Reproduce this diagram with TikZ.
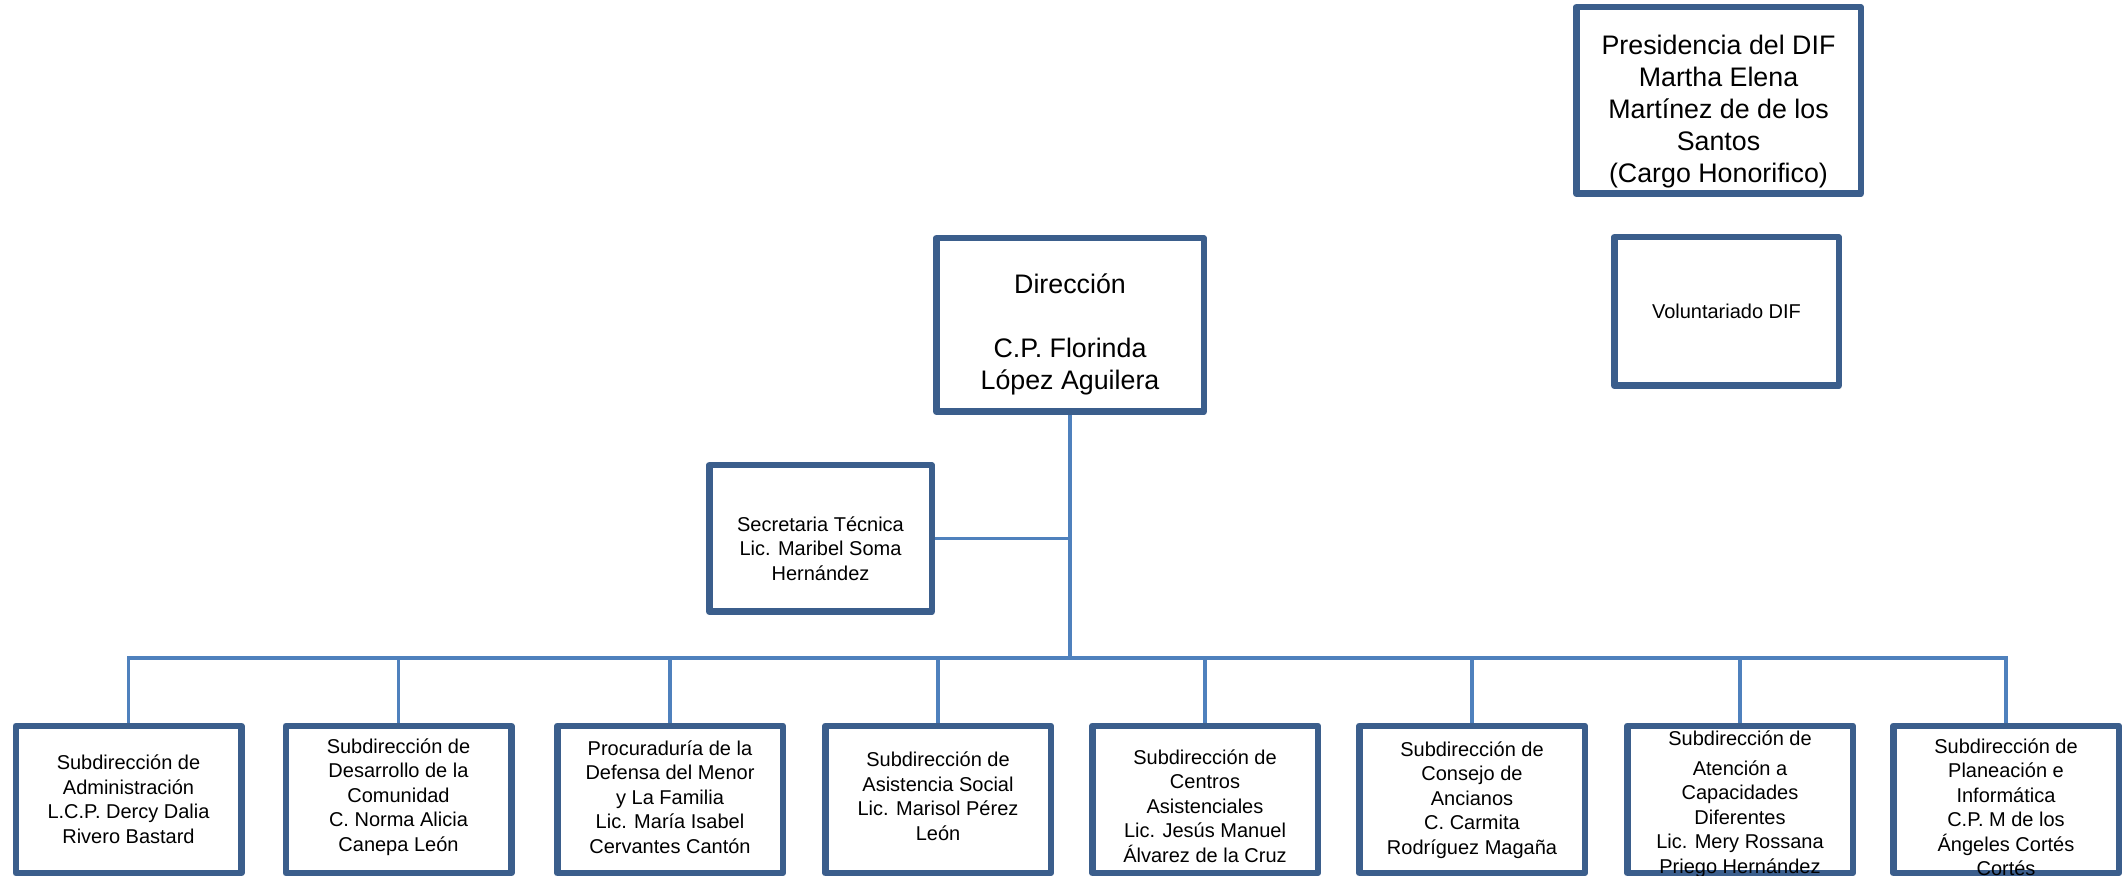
\documentclass[tikz,border=0pt]{standalone}
\usepackage{fontspec}
\setmainfont{Liberation Sans}
\definecolor{boxblue}{RGB}{59,94,140}
\definecolor{linkblue}{RGB}{79,129,189}
\begin{document}
\begin{tikzpicture}[x=0.5pt,y=-0.5pt,
  box/.style={draw=boxblue, line width=3.25pt, line join=round, fill=white, inner sep=0pt},
  sub/.style={box, minimum width=112.75pt, minimum height=73.5pt},
  link/.style={draw=linkblue, line width=1.6pt},
  mainlink/.style={draw=linkblue, line width=2pt},
  big/.style={align=center, inner sep=0pt, text=black, font=\fontsize{13.4}{16}\selectfont},
  small/.style={align=center, inner sep=0pt, text=black, font=\fontsize{10}{12.25}\selectfont},
]
\useasboundingbox (0,0) rectangle (2122,876);
\fill[white] (0,0) rectangle (2122,876);

% top boxes
\node[box, minimum width=142.25pt, minimum height=93.25pt] (pres) at (1718.5,100.5) {};
\node[big] (presT) at ([yshift=-5.5pt]pres.center) {Presidencia del DIF\\Martha Elena\\Martínez de de los\\Santos\\(Cargo Honorifico)};

\node[box, minimum width=112.25pt, minimum height=74.25pt] (vol) at (1726.5,311.5) {};
\node[small] (volT) at (vol.center) {Voluntariado DIF};

\node[box, minimum width=133.75pt, minimum height=86.75pt] (dir) at (1070,325) {};
\node[big] (dirT) at ([yshift=-4.5pt]dir.center) {Dirección\\[16pt]C.P. Florinda\\López Aguilera};

\node[box, minimum width=111.25pt, minimum height=73.25pt] (sec) at (820.5,538.5) {};
\node[small] (secT) at ([yshift=-5pt]sec.center) {Secretaria Técnica\\Lic. Maribel Soma\\Hernández};

% bottom boxes
\node[sub] (s1) at (128.5,799.5) {};
\node[sub] (s2) at (398.5,799.5) {};
\node[sub] (s3) at (670,799.5) {};
\node[sub] (s4) at (938,799.5) {};
\node[sub] (s5) at (1205,799.5) {};
\node[sub] (s6) at (1472,799.5) {};
\node[sub] (s7) at (1740,799.5) {};
\node[sub] (s8) at (2006,799.5) {};

% connectors
\coordinate (bus) at (1070,658);
\draw[mainlink] (dir.south) -- (bus);
\draw[link] (sec.east) -- (sec.east -| dir.south);
\foreach \i in {1,...,8} {
  \draw[link] (bus) -| (s\i.north);
}

% bottom texts
\node[small] (t1) at ([yshift=0.25pt]s1.center) {Subdirección de\\Administración\\L.C.P. Dercy Dalia\\Rivero Bastard};
\node[small] (t2) at ([yshift=1.25pt]s2.center) {Subdirección de\\Desarrollo de la\\Comunidad\\C. Norma Alicia\\Canepa León};
\node[small] (t3) at ([yshift=1.25pt]s3.center) {Procuraduría de la\\Defensa del Menor\\y La Familia\\Lic. María Isabel\\Cervantes Cantón};
\node[small] (t4) at ([yshift=1.75pt]s4.center) {Subdirección de\\Asistencia Social\\Lic. Marisol Pérez\\León};
\node[small] (t5) at ([yshift=-3.25pt]s5.center) {Subdirección de\\Centros\\Asistenciales\\Lic. Jesús Manuel\\Álvarez de la Cruz};
\node[small] (t6) at ([yshift=-0.25pt]s6.center) {Subdirección de\\Consejo de\\Ancianos\\C. Carmita\\Rodríguez Magaña};
\node[small] (t7) at ([yshift=-2.25pt]s7.center) {Subdirección de\\[2.5pt]Atención a\\Capacidades\\Diferentes\\Lic. Mery Rossana\\Priego Hernández};
\node[small] (t8) at ([yshift=-3.75pt]s8.center) {Subdirección de\\Planeación e\\Informática\\C.P. M de los\\Ángeles Cortés\\Cortés};
\end{tikzpicture}
\end{document}
